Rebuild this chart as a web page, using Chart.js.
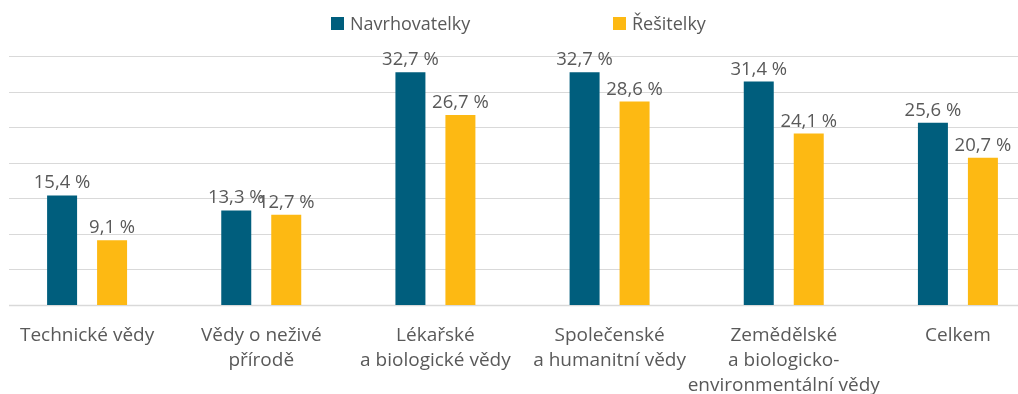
<!DOCTYPE html>
<html lang="cs">
<head>
<meta charset="utf-8">
<script src="https://cdn.jsdelivr.net/npm/chart.js@4"></script>
<style>
  html, body { margin: 0; padding: 0; background: #fff; overflow: hidden; }
  #wrap { position: relative; width: 1045px; height: 394px; }
  #legend { position: absolute; left: 0; top: 0; width: 100%; height: 50px; font-family: "Open Sans", sans-serif; font-size: 18px; color: #595959; }
  .item { position: absolute; top: 11px; display: flex; align-items: center; white-space: nowrap; }
  .box { width: 13px; height: 13px; margin-right: 6px; }
</style>
</head>
<body>
<div id="wrap">
  <canvas id="chart"></canvas>
  <div id="legend"></div>
</div>
<script>
const categories = [
  'Technické vědy',
  ['Vědy o neživé', 'přírodě'],
  ['Lékařské', 'a biologické vědy'],
  ['Společenské', 'a humanitní vědy'],
  ['Zemědělské', 'a biologicko-', 'environmentální vědy'],
  'Celkem'
];
const seriesNames = ['Navrhovatelky', 'Řešitelky'];
const navrhovatelky = [15.4, 13.3, 32.7, 32.7, 31.4, 25.6];
const resitelky = [9.1, 12.7, 26.7, 28.6, 24.1, 20.7];
const colors = ['#005E7D', '#FDB913'];
const legendLeft = [331, 613];

const fontFamily = '"Open Sans", sans-serif';
const textColor = '#595959';

// vodorovné mřížky (začínají kousek od levého okraje)
const gridPlugin = {
  id: 'gridLines',
  beforeDatasetsDraw(chart) {
    const { ctx, chartArea, scales } = chart;
    ctx.save();
    scales.y.ticks.forEach(t => {
      const y = Math.round(scales.y.getPixelForValue(t.value)) + 0.5;
      ctx.strokeStyle = '#D9D9D9';
      ctx.lineWidth = t.value === 0 ? 1.5 : 1;
      ctx.beginPath();
      ctx.moveTo(9, y);
      ctx.lineTo(chartArea.right, y);
      ctx.stroke();
    });
    ctx.restore();
  }
};

// popisky hodnot nad sloupci
const valueLabels = {
  id: 'valueLabels',
  afterDatasetsDraw(chart) {
    const { ctx } = chart;
    ctx.save();
    ctx.font = '18.5px ' + fontFamily;
    ctx.fillStyle = textColor;
    ctx.textAlign = 'center';
    ctx.textBaseline = 'bottom';
    chart.data.datasets.forEach((ds, i) => {
      chart.getDatasetMeta(i).data.forEach((bar, j) => {
        const txt = ds.data[j].toFixed(1).replace('.', ',') + ' %';
        ctx.fillText(txt, bar.x, bar.y - 3);
      });
    });
    ctx.restore();
  }
};

const chart = new Chart(document.getElementById('chart'), {
  type: 'bar',
  data: {
    labels: categories,
    datasets: [
      { label: seriesNames[0], data: navrhovatelky, backgroundColor: colors[0] },
      { label: seriesNames[1], data: resitelky, backgroundColor: colors[1] }
    ]
  },
  options: {
    responsive: true,
    maintainAspectRatio: false,
    animation: false,
    categoryPercentage: 0.574,
    barPercentage: 0.6,
    layout: { padding: { top: 56, left: 0, right: 0, bottom: 0 } },
    scales: {
      x: {
        grid: { display: false },
        border: { display: false },
        ticks: {
          color: textColor,
          font: { family: fontFamily, size: 19, lineHeight: 1.32 },
          padding: 10,
          maxRotation: 0,
          autoSkip: false
        },
        afterFit(scale) { scale.height = 89; }
      },
      y: {
        display: false,
        min: 0,
        max: 35,
        ticks: { stepSize: 5 }
      }
    },
    plugins: {
      legend: { display: false },
      tooltip: { enabled: false }
    }
  },
  plugins: [gridPlugin, valueLabels]
});

// legenda
const legendEl = document.getElementById('legend');
chart.data.datasets.forEach((ds, i) => {
  const item = document.createElement('div');
  item.className = 'item';
  item.style.left = legendLeft[i] + 'px';
  item.innerHTML = `<span class="box" style="background:${ds.backgroundColor}"></span><span>${ds.label}</span>`;
  legendEl.appendChild(item);
});
</script>
</body>
</html>
